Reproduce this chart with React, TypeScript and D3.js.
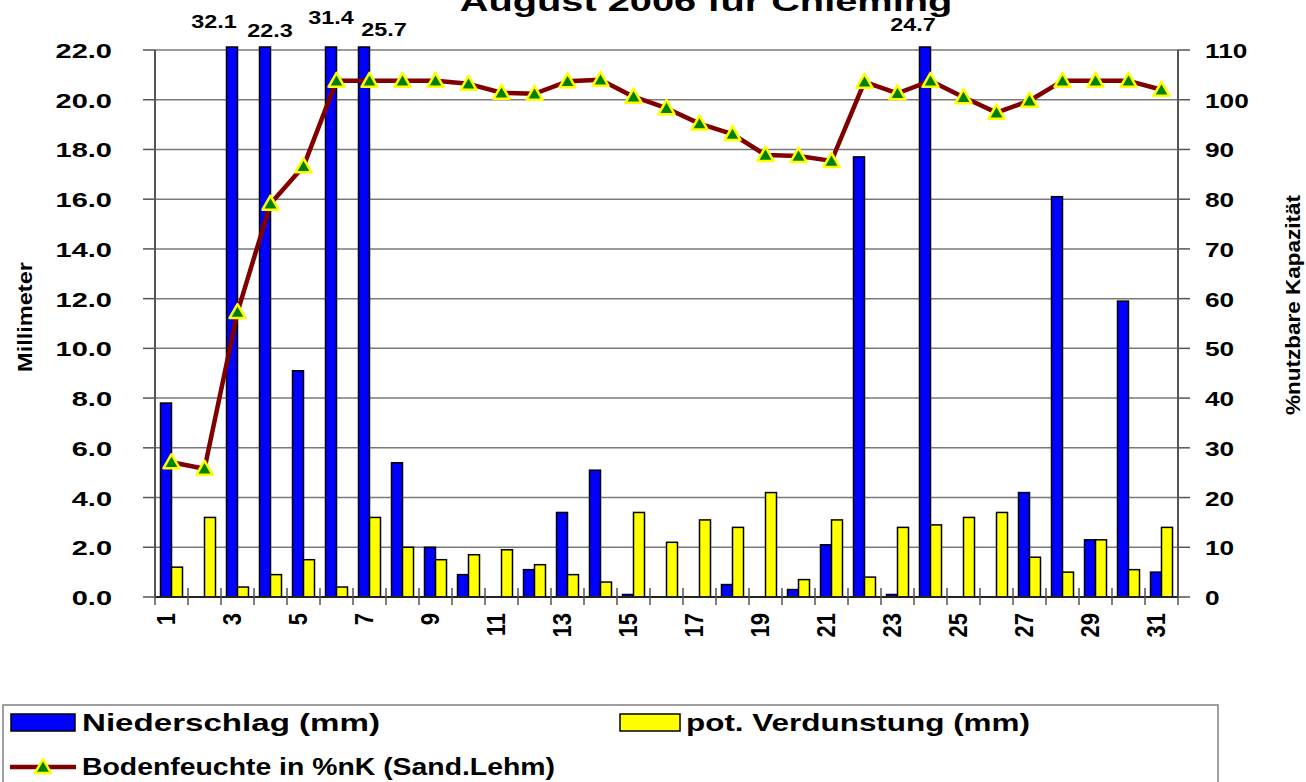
import React from 'react';
import * as d3 from 'd3';

const days = ['1','2','3','4','5','6','7','8','9','10','11','12','13','14','15','16','17','18','19','20','21','22','23','24','25','26','27','28','29','30','31'];
const niederschlag = [7.8,0,32.1,22.3,9.1,31.4,25.7,5.4,2.0,0.9,0,1.1,3.4,5.1,0.1,0,0,0.5,0,0.3,2.1,17.7,0.1,24.7,0,0,4.2,16.1,2.3,11.9,1.0];
const verdunstung = [1.2,3.2,0.4,0.9,1.5,0.4,3.2,2.0,1.5,1.7,1.9,1.3,0.9,0.6,3.4,2.2,3.1,2.8,4.2,0.7,3.1,0.8,2.8,2.9,3.2,3.4,1.6,1.0,2.3,1.1,2.8];
const bodenfeuchte = [27.1,25.8,57.3,79.1,86.6,103.8,103.8,103.8,103.8,103.2,101.4,101.2,103.7,104.0,100.6,98.3,95.2,93.1,88.9,88.7,87.7,103.6,101.3,103.8,100.5,97.4,99.8,103.8,103.8,103.8,102.0];
const leftTicks = [0,2,4,6,8,10,12,14,16,18,20,22];
const rightTicks = [0,10,20,30,40,50,60,70,80,90,100,110];

const FONT = "'Liberation Sans', Arial, sans-serif";
const M = { left: 155, right: 1178, top: 50, bottom: 597 };
const SX = 1.38;

// label nudges for clipped bars (layout only)
const labelNudge: Record<string, [number, number]> = {
  '3': [-18, 28], '4': [5, 37], '6': [0, 24], '7': [20, 36], '24': [-12, 31],
};

function SText({ x, y, sx = SX, anchor = 'start', size = 21, weight = 'bold', children }: any) {
  return (
    <text transform={`translate(${x},${y}) scale(${sx},1)`} textAnchor={anchor}
      fontFamily={FONT} fontSize={size} fontWeight={weight} fill="#000">{children}</text>
  );
}

export default function App() {
  const x = d3.scaleBand<string>().domain(days).range([M.left, M.right]).paddingInner(0).paddingOuter(0);
  const yL = d3.scaleLinear().domain([0, 22]).range([M.bottom, M.top]);
  const yR = d3.scaleLinear().domain([0, 110]).range([M.bottom, M.top]);
  const bw = x.bandwidth();
  const barW = bw / 3;
  const off = bw / 6;
  const clampL = (v: number) => yL(Math.min(v, 22));
  const line = d3.line<number>().x((_, i) => x(days[i])! + bw / 2).y(d => yR(d));
  const tri = (cx: number, cy: number) => `M${cx},${cy - 8} L${cx + 8},${cy + 6} L${cx - 8},${cy + 6} Z`;

  return (
    <svg width={1306} height={782} style={{ position: 'absolute', left: 0, top: 0, background: '#fff' }}>
      <rect x={0} y={0} width={1306} height={782} fill="#fff" />
      {/* title (cut off at top, as in the reference) */}
      <SText x={706} y={11} anchor="middle" size={28} sx={1.42}>August 2006 für Chieming</SText>

      {/* gridlines */}
      {leftTicks.map(t => (
        <line key={'g' + t} x1={M.left} x2={M.right} y1={yL(t)} y2={yL(t)} stroke="#7a7a7a" strokeWidth={1.5} />
      ))}

      {/* bars */}
      {days.map((d, i) => {
        const x0 = x(d)! + off;
        const v1 = niederschlag[i];
        const v2 = verdunstung[i];
        return (
          <g key={'b' + d}>
            {v1 > 0 && (
              <rect x={x0} y={clampL(v1) - (v1 > 22 ? 3 : 0)} width={barW} height={yL(0) - clampL(v1) + (v1 > 22 ? 3 : 0)}
                fill="#0000ff" stroke="#000" strokeWidth={1.5} />
            )}
            {v2 > 0 && (
              <rect x={x0 + barW} y={clampL(v2)} width={barW} height={yL(0) - clampL(v2)}
                fill="#ffff00" stroke="#000" strokeWidth={1.5} />
            )}
          </g>
        );
      })}

      {/* axes */}
      <line x1={M.left} x2={M.left} y1={M.top} y2={M.bottom} stroke="#555" strokeWidth={2} />
      <line x1={M.right} x2={M.right} y1={M.top} y2={M.bottom} stroke="#555" strokeWidth={2} />
      <line x1={M.left} x2={M.right} y1={M.bottom} y2={M.bottom} stroke="#222" strokeWidth={2} />
      {leftTicks.map(t => (
        <g key={'lt' + t}>
          <line x1={M.left - 12} x2={M.left} y1={yL(t)} y2={yL(t)} stroke="#555" strokeWidth={1.5} />
          <SText x={112} y={yL(t) + 8} anchor="end">{t.toFixed(1)}</SText>
        </g>
      ))}
      {rightTicks.map(t => (
        <g key={'rt' + t}>
          <line x1={M.right} x2={M.right + 12} y1={yR(t)} y2={yR(t)} stroke="#555" strokeWidth={1.5} />
          <SText x={1205} y={yR(t) + 8} anchor="start" sx={1.25}>{String(t)}</SText>
        </g>
      ))}
      {days.concat(['end']).map((d, i) => {
        const xx = M.left + i * bw;
        return <line key={'xt' + i} x1={xx} x2={xx} y1={M.bottom - 9} y2={M.bottom + 8} stroke="#555" strokeWidth={1.5} />;
      })}
      {days.map((d, i) => i % 2 === 0 ? (
        <text key={'xl' + d} transform={`translate(${x(d)! + bw / 2 + 3},${613}) scale(1.15,1) rotate(-90)`} textAnchor="end"
          fontFamily={FONT} fontSize={22} fontWeight="bold">{d}</text>
      ) : null)}

      {/* axis titles */}
      <text transform={`translate(32,317) rotate(-90)`} textAnchor="middle" fontFamily={FONT} fontSize={21}
        fontWeight="bold" textLength={110} lengthAdjust="spacingAndGlyphs">Millimeter</text>
      <text transform={`translate(1300,305) rotate(-90)`} textAnchor="middle" fontFamily={FONT} fontSize={21}
        fontWeight="bold" textLength={220} lengthAdjust="spacingAndGlyphs">%nutzbare Kapazität</text>

      {/* line */}
      <path d={line(bodenfeuchte) || ''} fill="none" stroke="#800000" strokeWidth={4.5} strokeLinejoin="round" />
      {bodenfeuchte.map((v, i) => (
        <path key={'m' + i} d={tri(x(days[i])! + bw / 2, yR(v))} fill="#008000" stroke="#ffff00" strokeWidth={2.5} strokeLinejoin="round" />
      ))}

      {/* data labels for clipped bars */}
      {days.map((d, i) => niederschlag[i] > 22 ? (
        <SText key={'dl' + d} x={x(d)! + off + barW / 2 + labelNudge[d][0]} y={labelNudge[d][1]} anchor="middle" size={18} sx={1.3}>
          {niederschlag[i].toFixed(1)}
        </SText>
      ) : null)}

      {/* legend */}
      <rect x={3} y={705} width={1215} height={100} fill="#fff" stroke="#808080" strokeWidth={1.5} />
      <rect x={11} y={714} width={64} height={17} fill="#0000ff" stroke="#000" strokeWidth={1.5} />
      <text x={82} y={731} fontFamily={FONT} fontSize={23} fontWeight="bold" textLength={298} lengthAdjust="spacingAndGlyphs">Niederschlag (mm)</text>
      <rect x={620} y={714} width={60} height={17} fill="#ffff00" stroke="#000" strokeWidth={1.5} />
      <text x={686} y={731} fontFamily={FONT} fontSize={23} fontWeight="bold" textLength={344} lengthAdjust="spacingAndGlyphs">pot. Verdunstung (mm)</text>
      <line x1={10} x2={76} y1={767} y2={767} stroke="#800000" strokeWidth={4.5} />
      <path d={tri(43, 767)} fill="#008000" stroke="#ffff00" strokeWidth={2.5} strokeLinejoin="round" />
      <text x={82} y={775} fontFamily={FONT} fontSize={23} fontWeight="bold" textLength={473} lengthAdjust="spacingAndGlyphs">Bodenfeuchte in %nK (Sand.Lehm)</text>
    </svg>
  );
}
